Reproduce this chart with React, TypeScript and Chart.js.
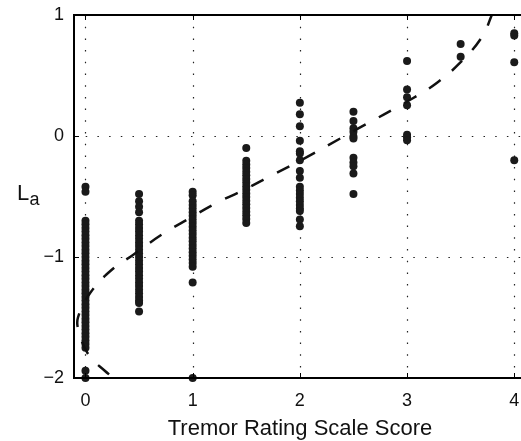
import React, { useEffect, useRef } from "react";
import { Chart, registerables } from "chart.js";

Chart.register(...registerables);

// ---- tick labels ----
const xTickValues = [0, 1, 2, 3, 4];
const yTickValues = [-2, -1, 0, 1];

// ---- categories (Tremor Rating Scale Score) ----
const scoreCategories = [0, 0.5, 1, 1.5, 2, 2.5, 3, 3.5, 4];

// ---- L_a values per score ----
const laScore0 = [
  -0.42, -0.46, -0.7, -0.73, -0.76, -0.79, -0.82, -0.85, -0.88, -0.91, -0.94, -0.97,
  -1.0, -1.03, -1.06, -1.09, -1.12, -1.15, -1.18, -1.21, -1.24, -1.27, -1.3, -1.33,
  -1.36, -1.39, -1.42, -1.45, -1.48, -1.51, -1.54, -1.57, -1.6, -1.63, -1.66, -1.69,
  -1.72, -1.75, -1.94, -2.0,
];
const laScore05 = [
  -0.48, -0.54, -0.585, -0.63, -0.7, -0.73, -0.76, -0.79, -0.82, -0.85, -0.88, -0.91,
  -0.94, -0.97, -1.0, -1.03, -1.06, -1.09, -1.12, -1.15, -1.18, -1.21, -1.24, -1.27,
  -1.3, -1.33, -1.36, -1.38, -1.45,
];
const laScore1 = [
  -0.46, -0.49, -0.54, -0.57, -0.6, -0.63, -0.66, -0.69, -0.72, -0.75, -0.78, -0.81,
  -0.84, -0.87, -0.9, -0.93, -0.96, -0.99, -1.02, -1.05, -1.08, -1.21, -2.0,
];
const laScore15 = [
  -0.1, -0.205, -0.235, -0.265, -0.295, -0.325, -0.355, -0.385, -0.415, -0.445, -0.475,
  -0.505, -0.535, -0.565, -0.595, -0.625, -0.655, -0.685, -0.72,
];
const laScore2 = [
  0.275, 0.18, 0.08, -0.04, -0.125, -0.145, -0.2, -0.29, -0.345, -0.42, -0.45, -0.48,
  -0.51, -0.54, -0.57, -0.6, -0.62, -0.69, -0.745,
];
const laScore25 = [0.2, 0.125, 0.065, 0.035, -0.005, -0.02, -0.18, -0.22, -0.25, -0.31, -0.48];
const laScore3 = [0.62, 0.385, 0.32, 0.255, 0.01, -0.01, -0.035];
const laScore35 = [0.76, 0.655];
const laScore4 = [0.85, 0.83, 0.61, -0.2];

const laByScore = [
  laScore0, laScore05, laScore1, laScore15, laScore2, laScore25, laScore3, laScore35, laScore4,
];

// ---- dashed fit curve ----
const fitX = [3.8, 3.7, 3.5, 3.28, 3.05, 2.52, 1.97, 1.75, 1.49, 1.22, 0.97, 0.72, 0.44, 0.24, 0.05, -0.07, -0.06, 0.03, 0.18, 0.31];
const fitY = [1.02, 0.82, 0.61, 0.44, 0.31, 0.05, -0.22, -0.32, -0.44, -0.555, -0.68, -0.81, -0.985, -1.11, -1.29, -1.5, -1.62, -1.81, -1.94, -2.03];

const FONT = "'Liberation Sans', Arial, Helvetica, sans-serif";

const fmt = (v: number) => (v < 0 ? "\u2212" + Math.abs(v) : String(v));

const zeroPadding = (scale: any) => {
  scale.paddingTop = 0;
  scale.paddingBottom = 0;
  scale.paddingLeft = 0;
  scale.paddingRight = 0;
};

const framePlugin = {
  id: "matlabFrame",
  beforeDatasetsDraw(chart: any) {
    const { ctx, chartArea: a, scales } = chart;
    ctx.save();
    ctx.strokeStyle = "#222";
    ctx.lineWidth = 1.2;
    ctx.setLineDash([1.5, 10.2]);
    for (const v of xTickValues) {
      const px = Math.round(scales.x.getPixelForValue(v)) + 0.5;
      ctx.beginPath();
      ctx.moveTo(px, a.top);
      ctx.lineTo(px, a.bottom);
      ctx.stroke();
    }
    for (const v of yTickValues) {
      const py = Math.round(scales.y.getPixelForValue(v)) + 0.5;
      ctx.beginPath();
      ctx.moveTo(a.left, py);
      ctx.lineTo(a.right, py);
      ctx.stroke();
    }
    ctx.restore();
  },
  afterDraw(chart: any) {
    const { ctx, chartArea: a, scales } = chart;
    ctx.save();
    ctx.setLineDash([]);
    ctx.strokeStyle = "#000";
    ctx.lineWidth = 1;
    for (const v of xTickValues) {
      const px = Math.round(scales.x.getPixelForValue(v)) + 0.5;
      ctx.beginPath();
      ctx.moveTo(px, a.bottom);
      ctx.lineTo(px, a.bottom - 5);
      ctx.moveTo(px, a.top);
      ctx.lineTo(px, a.top + 5);
      ctx.stroke();
    }
    for (const v of yTickValues) {
      const py = Math.round(scales.y.getPixelForValue(v)) + 0.5;
      ctx.beginPath();
      ctx.moveTo(a.left, py);
      ctx.lineTo(a.left + 5, py);
      ctx.stroke();
    }
    ctx.lineWidth = 2;
    ctx.beginPath();
    ctx.moveTo(a.right + 2, a.top);
    ctx.lineTo(a.left, a.top);
    ctx.lineTo(a.left, a.bottom);
    ctx.lineTo(a.right + 2, a.bottom);
    ctx.stroke();
    ctx.fillStyle = "#111";
    ctx.font = `22px ${FONT}`;
    ctx.textAlign = "center";
    ctx.textBaseline = "alphabetic";
    ctx.fillText("Tremor Rating Scale Score", 300, 435);
    ctx.textAlign = "left";
    ctx.fillText("L", 17, 200);
    ctx.font = `18px ${FONT}`;
    ctx.fillText("a", 29.5, 205);
    ctx.restore();
  },
};

export default function App() {
  const canvasRef = useRef<HTMLCanvasElement | null>(null);

  useEffect(() => {
    const canvas = canvasRef.current;
    if (!canvas) return;
    const scatterData = scoreCategories.flatMap((x, i) => laByScore[i].map((y) => ({ x, y })));
    const curveData = fitX.map((x, i) => ({ x, y: fitY[i] }));

    const chart = new Chart(canvas, {
      type: "scatter",
      data: {
        datasets: [
          {
            type: "line",
            label: "fit",
            data: curveData,
            borderColor: "#111",
            borderWidth: 2.5,
            borderDash: [14, 15],
            pointRadius: 0,
            tension: 0.4,
            fill: false,
            order: 0,
          } as any,
          {
            type: "scatter",
            label: "La",
            data: scatterData,
            backgroundColor: "#1a1a1a",
            borderColor: "#1a1a1a",
            borderWidth: 0,
            pointRadius: 4,
            clip: false,
            order: 1,
          } as any,
        ],
      },
      options: {
        responsive: false,
        animation: false,
        devicePixelRatio: 1,
        layout: { autoPadding: false, padding: { top: 15, left: 0, right: 0, bottom: 0 } },
        plugins: { legend: { display: false }, tooltip: { enabled: false } },
        scales: {
          x: {
            type: "linear",
            min: -0.107,
            max: 4.063,
            grid: { display: false, drawTicks: false },
            border: { display: false },
            afterBuildTicks: (scale: any) => {
              scale.ticks = xTickValues.map((v) => ({ value: v }));
            },
            afterFit: (scale: any) => {
              scale.height = 63;
              zeroPadding(scale);
            },
            ticks: {
              padding: 12,
              color: "#111",
              font: { family: FONT, size: 18 },
              callback: (v: any) => fmt(Number(v)),
            },
          },
          y: {
            type: "linear",
            min: -2,
            max: 1,
            grid: { display: false, drawTicks: false },
            border: { display: false },
            afterBuildTicks: (scale: any) => {
              scale.ticks = yTickValues.map((v) => ({ value: v }));
            },
            afterFit: (scale: any) => {
              scale.width = 74;
              zeroPadding(scale);
            },
            ticks: {
              padding: 10,
              color: "#111",
              font: { family: FONT, size: 18 },
              callback: (v: any) => fmt(Number(v)),
            },
          },
        },
      } as any,
      plugins: [framePlugin],
    });
    return () => chart.destroy();
  }, []);

  return (
    <div style={{ position: "absolute", left: 0, top: 0, width: 521, height: 441, background: "#fff" }}>
      <canvas ref={canvasRef} width={521} height={441} style={{ display: "block" }} />
    </div>
  );
}
